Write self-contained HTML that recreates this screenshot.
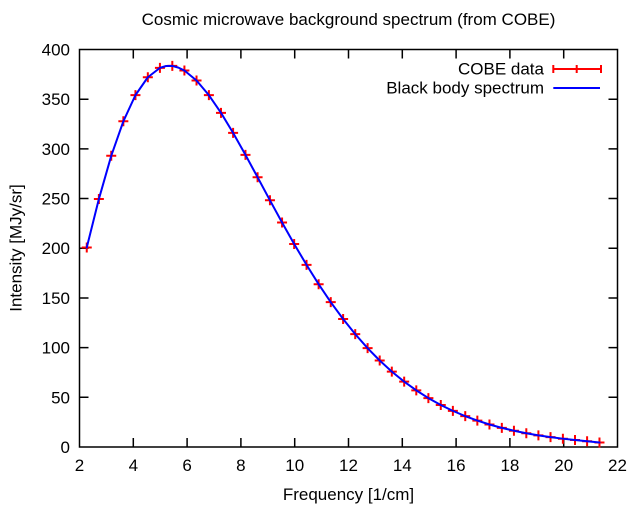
<!DOCTYPE html>
<html><head><meta charset="utf-8"><style>
html,body{margin:0;padding:0;background:#fff;}
svg{display:block;}
text{font-family:"Liberation Sans",Arial,sans-serif;font-size:17px;fill:#000;}
</style></head><body>
<svg width="640" height="521" viewBox="0 0 640 521" xmlns="http://www.w3.org/2000/svg">
<defs><path id="c" d="M-5 0h10M0-5v10" stroke="#ff0000" stroke-width="2" fill="none"/></defs>
<text x="348.5" y="25" text-anchor="middle">Cosmic microwave background spectrum (from COBE)</text>
<g stroke="#000" stroke-width="1.5" fill="none">
<rect x="79.5" y="49.5" width="538" height="397.5"/>
<path d="M79.5 397.31h9M79.5 347.63h9M79.5 297.94h9M79.5 248.25h9M79.5 198.56h9M79.5 148.88h9M79.5 99.19h9M617.5 397.31h-9M617.5 347.63h-9M617.5 297.94h-9M617.5 248.25h-9M617.5 198.56h-9M617.5 148.88h-9M617.5 99.19h-9M133.3 447v-9M187.1 447v-9M240.9 447v-9M294.7 447v-9M348.5 447v-9M402.3 447v-9M456.1 447v-9M509.9 447v-9M563.7 447v-9M133.3 49.5v9M187.1 49.5v9M240.9 49.5v9M294.7 49.5v9M348.5 49.5v9M402.3 49.5v9M456.1 49.5v9M509.9 49.5v9M563.7 49.5v9"/>
</g>
<g text-anchor="end">
<text x="70" y="453">0</text>
<text x="70" y="403.3">50</text>
<text x="70" y="353.6">100</text>
<text x="70" y="303.9">150</text>
<text x="70" y="254.2">200</text>
<text x="70" y="204.6">250</text>
<text x="70" y="154.9">300</text>
<text x="70" y="105.2">350</text>
<text x="70" y="55.5">400</text>
</g>
<g text-anchor="middle">
<text x="79.5" y="471">2</text>
<text x="133.3" y="471">4</text>
<text x="187.1" y="471">6</text>
<text x="240.9" y="471">8</text>
<text x="294.7" y="471">10</text>
<text x="348.5" y="471">12</text>
<text x="402.3" y="471">14</text>
<text x="456.1" y="471">16</text>
<text x="509.9" y="471">18</text>
<text x="563.7" y="471">20</text>
<text x="617.5" y="471">22</text>
<text x="348.5" y="500">Frequency [1/cm]</text>
<text x="0" y="0" transform="translate(21.5 248) rotate(-90)">Intensity [MJy/sr]</text>
</g>
<g>
<use href="#c" x="86.76" y="247.53"/>
<use href="#c" x="98.87" y="199.05"/>
<use href="#c" x="111.24" y="155.81"/>
<use href="#c" x="123.35" y="121.28"/>
<use href="#c" x="135.45" y="95.13"/>
<use href="#c" x="147.83" y="77.25"/>
<use href="#c" x="159.93" y="67.89"/>
<use href="#c" x="172.31" y="65.92"/>
<use href="#c" x="184.41" y="70.47"/>
<use href="#c" x="196.52" y="80.47"/>
<use href="#c" x="208.89" y="95.15"/>
<use href="#c" x="220.99" y="112.82"/>
<use href="#c" x="233.10" y="132.90"/>
<use href="#c" x="245.47" y="154.91"/>
<use href="#c" x="257.58" y="177.27"/>
<use href="#c" x="269.95" y="200.31"/>
<use href="#c" x="282.06" y="222.47"/>
<use href="#c" x="294.16" y="243.95"/>
<use href="#c" x="306.54" y="264.88"/>
<use href="#c" x="318.64" y="284.19"/>
<use href="#c" x="330.75" y="302.16"/>
<use href="#c" x="343.12" y="318.97"/>
<use href="#c" x="355.23" y="334.14"/>
<use href="#c" x="367.60" y="348.17"/>
<use href="#c" x="379.70" y="360.51"/>
<use href="#c" x="391.81" y="371.60"/>
<use href="#c" x="404.18" y="381.65"/>
<use href="#c" x="416.29" y="390.35"/>
<use href="#c" x="428.39" y="398.08"/>
<use href="#c" x="440.77" y="405.00"/>
<use href="#c" x="452.87" y="410.87"/>
<use href="#c" x="465.25" y="416.13"/>
<use href="#c" x="477.35" y="420.59"/>
<use href="#c" x="489.46" y="424.50"/>
<use href="#c" x="501.83" y="427.87"/>
<use href="#c" x="513.94" y="430.71"/>
<use href="#c" x="526.31" y="433.28"/>
<use href="#c" x="538.41" y="435.36"/>
<use href="#c" x="550.52" y="437.14"/>
<use href="#c" x="562.89" y="438.69"/>
<use href="#c" x="575.00" y="439.96"/>
<use href="#c" x="587.10" y="441.24"/>
<use href="#c" x="599.48" y="442.51"/>
</g>
<polyline fill="none" stroke="#0000ff" stroke-width="2" stroke-linejoin="round" stroke-linecap="round" points="86.76,247.53 98.87,199.05 111.24,155.81 123.35,121.28 135.45,95.13 147.83,77.25 159.93,67.89 166.1,66.0 172.31,65.92 178.4,67.6 184.41,70.47 196.52,80.47 208.89,95.15 220.99,112.82 233.10,132.90 245.47,154.91 257.58,177.27 269.95,200.31 282.06,222.47 294.16,243.95 306.54,264.88 318.64,284.19 330.75,302.16 343.12,318.97 355.23,334.14 367.60,348.17 379.70,360.51 391.81,371.60 404.18,381.65 416.29,390.35 428.39,398.08 440.77,405.00 452.87,410.87 465.25,416.13 477.35,420.59 489.46,424.50 501.83,427.87 513.94,430.71 526.31,433.28 538.41,435.36 550.52,437.14 562.89,438.69 575.00,439.96 587.10,441.24 599.48,442.51"/>
<text x="544" y="74.5" text-anchor="end">COBE data</text>
<text x="544" y="93.5" text-anchor="end">Black body spectrum</text>
<path d="M553.3 69H601M553.3 65v8M601 65v8M576.7 65v8" stroke="#ff0000" stroke-width="2" fill="none"/>
<path d="M553.3 88H600" stroke="#0000ff" stroke-width="2" fill="none"/>
</svg>
</body></html>
